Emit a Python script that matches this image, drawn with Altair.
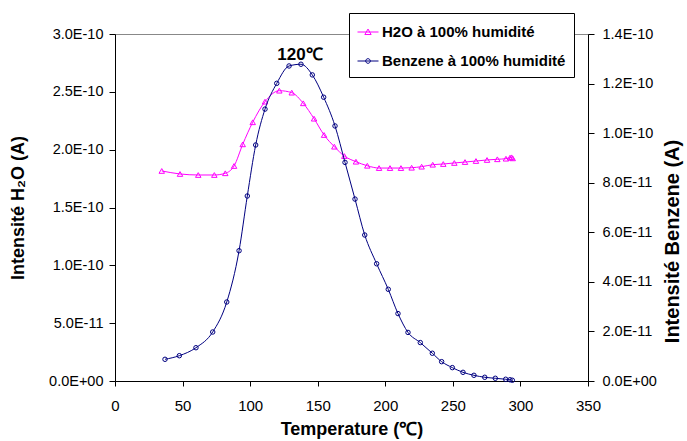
import altair as alt
import pandas as pd

# ---------------- data ----------------
series_names = ["H2O à 100% humidité", "Benzene à 100% humidité"]
series_colors = ["#FF00FF", "#000080"]

temp_h2o = [34.6, 48.1, 61.6, 73.5, 81.6, 88.1, 94.5, 101.9, 111.0, 121.6,
            130.8, 139.3, 147.3, 154.7, 162.3, 169.7, 178.3, 186.7, 195.4, 203.5,
            211.6, 219.5, 226.9, 235.1, 242.9, 251.1, 259.0, 267.1, 275.3, 282.9,
            289.3, 292.3, 293.5, 294.3]
h2o_vals = [1.816e-10, 1.790e-10, 1.781e-10, 1.781e-10, 1.796e-10, 1.859e-10, 2.046e-10, 2.237e-10, 2.415e-10, 2.510e-10,
            2.493e-10, 2.401e-10, 2.268e-10, 2.127e-10, 2.026e-10, 1.945e-10, 1.896e-10, 1.861e-10, 1.841e-10, 1.841e-10,
            1.841e-10, 1.844e-10, 1.853e-10, 1.870e-10, 1.876e-10, 1.885e-10, 1.893e-10, 1.902e-10, 1.911e-10, 1.917e-10,
            1.922e-10, 1.931e-10, 1.934e-10, 1.925e-10]

temp_benz = [37.0, 47.6, 59.9, 72.3, 82.7, 91.8, 97.9, 104.1, 111.0, 119.7,
             128.8, 137.6, 146.0, 154.4, 162.8, 170.2, 177.6, 184.8, 193.6, 202.2,
             209.4, 216.8, 225.9, 234.8, 241.7, 249.6, 257.5, 265.6, 273.6, 281.4,
             289.1, 292.3, 294.0]
benz_vals = [0.876e-11, 1.021e-11, 1.343e-11, 1.977e-11, 3.187e-11, 5.257e-11, 7.464e-11, 9.522e-11, 10.97e-11, 12.01e-11,
             12.71e-11, 12.78e-11, 12.35e-11, 11.45e-11, 10.29e-11, 8.82e-11, 7.34e-11, 5.89e-11, 4.73e-11, 3.70e-11,
             2.72e-11, 1.96e-11, 1.55e-11, 1.12e-11, 0.78e-11, 0.54e-11, 0.35e-11, 0.23e-11, 0.15e-11, 0.11e-11,
             0.07e-11, 0.05e-11, 0.03e-11]

x_ticks = [0, 50, 100, 150, 200, 250, 300, 350]
y_left_ticks = [0, 5e-11, 1.0e-10, 1.5e-10, 2.0e-10, 2.5e-10, 3.0e-10]
y_right_ticks = [0, 2e-11, 4e-11, 6e-11, 8e-11, 1.0e-10, 1.2e-10, 1.4e-10]

annot_label = ["120℃"]
annot_T = [136.9]
annot_v = [2.818e-10]

# ---------------- styling ----------------
FONT = "Liberation Sans"
W, H = 473, 347
label_expr = "datum.value == 0 ? '0.0E+00' : upper(format(datum.value, '.1e'))"

legend_paths = [
    "M-1,0H1M0,-0.28L0.3,0.24L-0.3,0.24Z",
    "M-1,0H1M0.22,0A0.22,0.22,0,1,1,-0.22,0A0.22,0.22,0,1,1,0.22,0Z",
]

h2o = pd.DataFrame({"T": temp_h2o, "v": h2o_vals})
benz = pd.DataFrame({"T": temp_benz, "v": benz_vals})
annot = pd.DataFrame({"T": annot_T, "v": annot_v, "label": annot_label})
legend_df = pd.DataFrame({"series": series_names})

x_enc = alt.X(
    "T:Q",
    scale=alt.Scale(domain=[0, 350], nice=False, zero=False),
    axis=alt.Axis(
        values=x_ticks, title="Temperature (℃)", labelFontSize=15, tickSize=5,
        labelPadding=12, titlePadding=7, titleFontSize=18, labelFlush=False,
    ),
)

y_left = alt.Y(
    "v:Q",
    scale=alt.Scale(domain=[0, 3e-10], nice=False, zero=True),
    axis=alt.Axis(
        orient="left", values=y_left_ticks, labelExpr=label_expr,
        title="Intensité H₂O (A)", labelFontSize=14.5, tickSize=6, labelPadding=6,
        titleFontSize=18, titleAngle=270, titleX=-97, titleY=H / 2,
        titleAlign="center", titleBaseline="middle", labelFlush=False,
    ),
)

y_right = alt.Y(
    "v:Q",
    scale=alt.Scale(domain=[0, 1.4e-10], nice=False, zero=True),
    axis=alt.Axis(
        orient="right", values=y_right_ticks, labelExpr=label_expr,
        title="Intensité Benzene (A)", labelFontSize=14.5, tickSize=6, labelPadding=8,
        titleFontSize=20, titleAngle=270, titleX=84, titleY=207,
        titleAlign="center", titleBaseline="middle", labelFlush=False,
    ),
)

h2o_line = alt.Chart(h2o).mark_line(
    color=series_colors[0], strokeWidth=1, interpolate="monotone"
).encode(x=x_enc, y=y_left)
h2o_pts = alt.Chart(h2o).mark_point(
    shape="triangle-up", filled=False, size=30, strokeWidth=1, color=series_colors[0], opacity=1
).encode(x=x_enc, y=y_left)

annot_text = alt.Chart(annot).mark_text(
    font=FONT, fontSize=17, fontWeight="bold", color="black"
).encode(x=x_enc, y=y_left, text="label:N")

legend_cfg = dict(
    title=None, orient="none", legendX=234, legendY=-21,
    padding=8, strokeColor="black", fillColor="white",
    labelFont=FONT, labelFontSize=15, labelFontWeight="bold", labelColor="black",
    labelLimit=400,
    symbolSize=441, symbolStrokeWidth=1, symbolFillColor="transparent",
    rowPadding=10, labelOffset=3, cornerRadius=0,
)
carrier = alt.Chart(legend_df).transform_filter("false").mark_point(
    filled=False, strokeWidth=1, opacity=1
).encode(
    color=alt.Color("series:N", scale=alt.Scale(domain=series_names, range=series_colors),
                    legend=alt.Legend(**legend_cfg)),
    shape=alt.Shape("series:N", scale=alt.Scale(domain=series_names, range=legend_paths),
                    legend=alt.Legend(**legend_cfg)),
)

benz_line = alt.Chart(benz).mark_line(
    color=series_colors[1], strokeWidth=1, interpolate="monotone"
).encode(x=x_enc, y=y_right)
benz_pts = alt.Chart(benz).mark_point(
    shape="circle", filled=False, size=20, strokeWidth=1, color=series_colors[1], opacity=1
).encode(x=x_enc, y=y_right)

left = alt.layer(h2o_line, h2o_pts, annot_text, carrier)
right = alt.layer(benz_line, benz_pts)

chart = alt.layer(left, right).resolve_scale(y="independent").properties(
    width=W, height=H,
    autosize=alt.AutoSizeParams(type="none"),
    padding={"left": 115, "top": 34, "right": 99, "bottom": 60},
    background="white",
).configure_view(
    stroke="#888888", strokeWidth=1
).configure_axis(
    labelFont=FONT, titleFont=FONT, labelColor="black", titleColor="black",
    domainColor="black", tickColor="black", grid=False, titleFontWeight="bold",
    domainWidth=1, tickWidth=1,
)

chart.save("out.html", embed_options={"renderer": "svg", "actions": False})
